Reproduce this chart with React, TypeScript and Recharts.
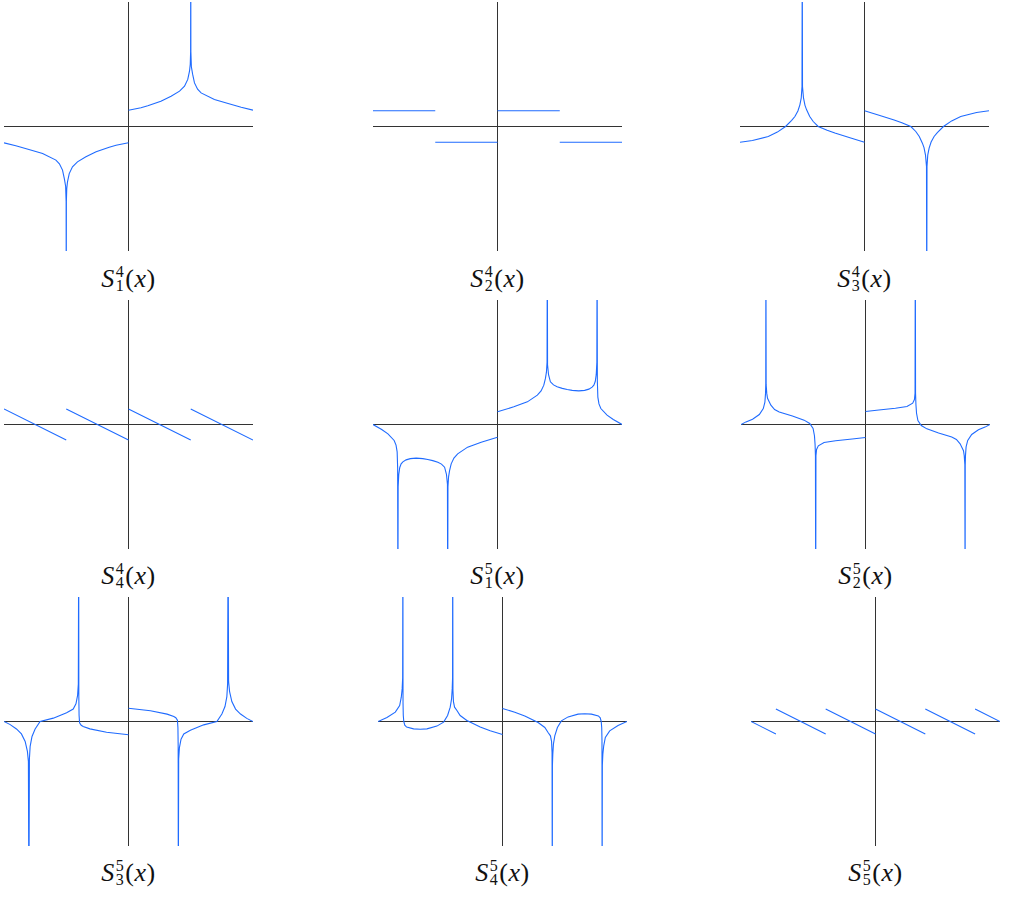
import { LineChart, Line, XAxis, YAxis, ReferenceLine } from 'recharts';

type Pt = [number, number];

// values, x and y both on [-1, 1]

// S_1^4
const s14Left: Pt[] = [
  [-1, -0.131], [-0.905, -0.155], [-0.8, -0.185], [-0.69, -0.217], [-0.583, -0.27], [-0.555, -0.3],
  [-0.53, -0.35], [-0.515, -0.42], [-0.505, -0.48], [-0.501, -0.6], [-0.5, -1.5], [-0.499, -0.6],
  [-0.496, -0.5], [-0.49, -0.444], [-0.476, -0.378], [-0.45, -0.324], [-0.41, -0.284], [-0.342, -0.243],
  [-0.26, -0.203], [-0.155, -0.166], [-0.1, -0.15], [0, -0.131],
];
const s14Right: Pt[] = [
  [0, 0.131], [0.1, 0.15], [0.155, 0.166], [0.26, 0.203], [0.342, 0.243], [0.41, 0.284], [0.45, 0.324],
  [0.476, 0.378], [0.49, 0.444], [0.496, 0.5], [0.499, 0.6], [0.5, 1.5], [0.501, 0.6], [0.505, 0.48],
  [0.515, 0.42], [0.53, 0.35], [0.555, 0.3], [0.583, 0.27], [0.69, 0.217], [0.8, 0.185], [0.905, 0.155],
  [1, 0.131],
];

// S_2^4
const s24A: Pt[] = [[-1, 0.126], [-0.5, 0.126]];
const s24B: Pt[] = [[-0.5, -0.126], [0, -0.126]];
const s24C: Pt[] = [[0, 0.126], [0.5, 0.126]];
const s24D: Pt[] = [[0.5, -0.126], [1, -0.126]];

// S_3^4
const s34Left: Pt[] = [
  [-1, -0.126], [-0.9, -0.113], [-0.773, -0.08], [-0.7, -0.045], [-0.634, 0], [-0.585, 0.05],
  [-0.559, 0.08], [-0.535, 0.125], [-0.519, 0.174], [-0.508, 0.23], [-0.502, 0.32], [-0.5, 1.5],
  [-0.498, 0.32], [-0.49, 0.23], [-0.478, 0.17], [-0.465, 0.134], [-0.44, 0.08], [-0.412, 0.04],
  [-0.372, 0], [-0.3, -0.03], [-0.238, -0.053], [-0.104, -0.094], [0, -0.126],
];
const s34Right: Pt[] = [
  [0, 0.126], [0.104, 0.094], [0.238, 0.053], [0.3, 0.03], [0.372, 0], [0.412, -0.04], [0.44, -0.08],
  [0.465, -0.134], [0.478, -0.17], [0.49, -0.23], [0.498, -0.32], [0.5, -1.5], [0.502, -0.32],
  [0.508, -0.23], [0.519, -0.174], [0.535, -0.125], [0.559, -0.08], [0.585, -0.05], [0.634, 0],
  [0.7, 0.045], [0.773, 0.08], [0.9, 0.113], [1, 0.126],
];

// S_4^4
const s44A: Pt[] = [[-1, 0.125], [-0.5, -0.125]];
const s44B: Pt[] = [[-0.5, 0.125], [0, -0.125]];
const s44C: Pt[] = [[0, 0.125], [0.5, -0.125]];
const s44D: Pt[] = [[0.5, 0.125], [1, -0.125]];

// S_1^5
const s15Left: Pt[] = [
  [-1, 0], [-0.93, -0.04], [-0.88, -0.075], [-0.83, -0.128], [-0.815, -0.165], [-0.806, -0.22],
  [-0.802, -0.35], [-0.8, -1.5], [-0.798, -0.5], [-0.793, -0.4], [-0.785, -0.345], [-0.774, -0.316],
  [-0.76, -0.3], [-0.734, -0.284], [-0.7, -0.274], [-0.653, -0.27], [-0.6, -0.274], [-0.56, -0.281],
  [-0.52, -0.29], [-0.479, -0.303], [-0.45, -0.318], [-0.425, -0.343], [-0.41, -0.4], [-0.402, -0.48],
  [-0.4, -1.5], [-0.398, -0.5], [-0.393, -0.42], [-0.385, -0.37], [-0.372, -0.316], [-0.35, -0.27],
  [-0.32, -0.236], [-0.24, -0.182], [-0.131, -0.142], [0, -0.102],
];
const s15Right: Pt[] = [
  [0, 0.102], [0.131, 0.142], [0.24, 0.182], [0.32, 0.236], [0.35, 0.27], [0.372, 0.316], [0.385, 0.37],
  [0.393, 0.42], [0.398, 0.5], [0.4, 1.5], [0.402, 0.48], [0.41, 0.4], [0.425, 0.343], [0.45, 0.318],
  [0.479, 0.303], [0.52, 0.29], [0.56, 0.281], [0.6, 0.274], [0.653, 0.27], [0.7, 0.274], [0.734, 0.284],
  [0.76, 0.3], [0.774, 0.316], [0.785, 0.345], [0.793, 0.4], [0.798, 0.5], [0.8, 1.5], [0.802, 0.35],
  [0.806, 0.22], [0.815, 0.165], [0.83, 0.128], [0.88, 0.075], [0.93, 0.04], [1, 0],
];

// S_2^5
const s25Left: Pt[] = [
  [-1, 0], [-0.96, 0.021], [-0.907, 0.043], [-0.853, 0.08], [-0.821, 0.128], [-0.808, 0.18],
  [-0.803, 0.25], [-0.801, 0.33], [-0.8, 1.5], [-0.798, 0.32], [-0.793, 0.25], [-0.787, 0.21],
  [-0.76, 0.155], [-0.73, 0.12], [-0.693, 0.101], [-0.587, 0.069], [-0.493, 0.035], [-0.448, 0.008],
  [-0.421, -0.032], [-0.41, -0.09], [-0.405, -0.16], [-0.402, -0.25], [-0.4, -1.5], [-0.398, -0.25],
  [-0.393, -0.2], [-0.379, -0.171], [-0.333, -0.144], [-0.24, -0.131], [-0.107, -0.117], [0, -0.104],
];
const s25Right: Pt[] = [
  [0, 0.104], [0.107, 0.117], [0.24, 0.131], [0.333, 0.144], [0.379, 0.171], [0.393, 0.2], [0.398, 0.25],
  [0.4, 1.5], [0.402, 0.25], [0.405, 0.16], [0.41, 0.09], [0.421, 0.032], [0.448, -0.008], [0.493, -0.035],
  [0.587, -0.069], [0.693, -0.101], [0.73, -0.12], [0.76, -0.155], [0.787, -0.21], [0.793, -0.25],
  [0.798, -0.32], [0.8, -1.5], [0.801, -0.33], [0.803, -0.25], [0.808, -0.18], [0.821, -0.128],
  [0.853, -0.08], [0.907, -0.043], [0.96, -0.021], [1, 0],
];

// S_3^5
const s35Left: Pt[] = [
  [-1, 0], [-0.95, -0.025], [-0.9, -0.06], [-0.86, -0.1], [-0.83, -0.16], [-0.812, -0.24], [-0.804, -0.32],
  [-0.8, -1.5], [-0.796, -0.3], [-0.79, -0.2], [-0.775, -0.12], [-0.75, -0.06], [-0.71, 0], [-0.604, 0.027],
  [-0.497, 0.07], [-0.444, 0.1], [-0.422, 0.142], [-0.409, 0.209], [-0.403, 0.3], [-0.4, 1.5],
  [-0.399, 0.2], [-0.397, 0.05], [-0.393, -0.01], [-0.38, -0.03], [-0.364, -0.04], [-0.31, -0.059],
  [-0.176, -0.086], [0, -0.107],
];
const s35Right: Pt[] = [
  [0, 0.107], [0.176, 0.086], [0.31, 0.059], [0.364, 0.04], [0.38, 0.03], [0.393, 0.01], [0.397, -0.05],
  [0.399, -0.2], [0.4, -1.5], [0.403, -0.3], [0.409, -0.209], [0.422, -0.142], [0.444, -0.1], [0.497, -0.07],
  [0.604, -0.027], [0.71, 0], [0.75, 0.06], [0.775, 0.12], [0.79, 0.2], [0.796, 0.3], [0.8, 1.5],
  [0.804, 0.32], [0.812, 0.24], [0.83, 0.16], [0.86, 0.1], [0.9, 0.06], [0.95, 0.025], [1, 0],
];

// S_4^5
const s45Left: Pt[] = [
  [-1, 0], [-0.928, 0.032], [-0.861, 0.075], [-0.826, 0.128], [-0.813, 0.195], [-0.806, 0.262],
  [-0.802, 0.35], [-0.8, 1.5], [-0.799, 0.15], [-0.797, 0.05], [-0.793, 0], [-0.785, -0.03],
  [-0.77, -0.045], [-0.714, -0.059], [-0.66, -0.062], [-0.607, -0.059], [-0.527, -0.037], [-0.473, -0.005],
  [-0.441, 0.048], [-0.42, 0.115], [-0.409, 0.182], [-0.404, 0.262], [-0.401, 0.35], [-0.4, 1.5],
  [-0.398, 0.25], [-0.394, 0.16], [-0.385, 0.115], [-0.366, 0.088], [-0.34, 0.048], [-0.286, 0.008],
  [-0.179, -0.045], [-0.099, -0.075], [0, -0.104],
];
const s45Right: Pt[] = [
  [0, 0.104], [0.099, 0.075], [0.179, 0.045], [0.286, -0.008], [0.34, -0.048], [0.366, -0.088],
  [0.385, -0.115], [0.394, -0.16], [0.398, -0.25], [0.4, -1.5], [0.401, -0.35], [0.404, -0.262],
  [0.409, -0.182], [0.42, -0.115], [0.441, -0.048], [0.473, 0.005], [0.527, 0.037], [0.607, 0.059],
  [0.66, 0.062], [0.714, 0.059], [0.77, 0.045], [0.785, 0.03], [0.793, 0], [0.797, -0.05], [0.799, -0.15],
  [0.8, -1.5], [0.802, -0.35], [0.806, -0.262], [0.813, -0.195], [0.826, -0.128], [0.861, -0.075],
  [0.928, -0.032], [1, 0],
];

// S_5^5
const s55A: Pt[] = [[-1, 0], [-0.8, -0.1]];
const s55B: Pt[] = [[-0.8, 0.1], [-0.4, -0.1]];
const s55C: Pt[] = [[-0.4, 0.1], [0, -0.1]];
const s55D: Pt[] = [[0, 0.1], [0.4, -0.1]];
const s55E: Pt[] = [[0.4, 0.1], [0.8, -0.1]];
const s55F: Pt[] = [[0.8, 0.1], [1, 0]];

const subs = [1, 2, 3, 4, 1, 2, 3, 4, 5];
const sups = [4, 4, 4, 4, 5, 5, 5, 5, 5];
const branchSets: Pt[][][] = [
  [s14Left, s14Right],
  [s24A, s24B, s24C, s24D],
  [s34Left, s34Right],
  [s44A, s44B, s44C, s44D],
  [s15Left, s15Right],
  [s25Left, s25Right],
  [s35Left, s35Right],
  [s45Left, s45Right],
  [s55A, s55B, s55C, s55D, s55E, s55F],
];

const BLUE = '#1f6bff';
const AXIS = '#333';
const W = 249;
const H = 249;
const rowTops = [2, 300, 597];
const colLefts = [
  [4, 373, 740],
  [4, 373, 741],
  [4, 378, 751],
];
const baselines = [288, 585, 882];
const SERIF = "'Liberation Serif', 'DejaVu Serif', serif";

// glue branches together with a null gap so the line breaks
function toRows(branches: Pt[][]) {
  const rows: { x: number; y: number | null }[] = [];
  branches.forEach((b, i) => {
    if (i > 0) rows.push({ x: b[0][0], y: null });
    b.forEach(([x, y]) => rows.push({ x, y }));
  });
  return rows;
}

function Label({ sub, sup, cx, baseline }: { sub: number; sup: number; cx: number; baseline: number }) {
  return (
    <div
      style={{
        position: 'absolute',
        left: cx - 60,
        top: baseline - 24,
        width: 120,
        textAlign: 'center',
        fontFamily: SERIF,
        fontSize: 26,
        lineHeight: '30px',
        color: '#111',
        whiteSpace: 'nowrap',
        letterSpacing: 0.5,
      }}
    >
      <span style={{ fontStyle: 'italic' }}>S</span>
      {/* super- and subscript stacked in one text block */}
      <span
        style={{
          display: 'inline-block',
          whiteSpace: 'pre-line',
          fontSize: 16,
          lineHeight: '14px',
          verticalAlign: '-4px',
          textAlign: 'left',
          marginLeft: 1,
          marginRight: 1,
        }}
      >
        {`${sup}\n${sub}`}
      </span>
      (<span style={{ fontStyle: 'italic' }}>x</span>)
    </div>
  );
}

function Panel({ branches, left, top }: { branches: Pt[][]; left: number; top: number }) {
  return (
    <div style={{ position: 'absolute', left, top, width: W, height: H }}>
      <LineChart width={W} height={H} data={toRows(branches)} margin={{ top: 0, right: 0, bottom: 0, left: 0 }}>
        <XAxis dataKey="x" type="number" domain={[-1, 1]} allowDataOverflow hide />
        <YAxis type="number" domain={[-1, 1]} allowDataOverflow hide />
        <ReferenceLine x={0} stroke={AXIS} strokeWidth={1} />
        <ReferenceLine y={0} stroke={AXIS} strokeWidth={1} />
        <Line
          type="linear"
          dataKey="y"
          stroke={BLUE}
          strokeWidth={1.1}
          dot={false}
          activeDot={false}
          connectNulls={false}
          isAnimationActive={false}
        />
      </LineChart>
    </div>
  );
}

export default function App() {
  return (
    <div style={{ position: 'absolute', left: 0, top: 0, width: 1009, height: 897, background: '#fff' }}>
      {branchSets.map((branches, i) => {
        const r = Math.floor(i / 3);
        const c = i % 3;
        const left = colLefts[r][c];
        return (
          <div key={i}>
            <Panel branches={branches} left={left} top={rowTops[r]} />
            <Label sub={subs[i]} sup={sups[i]} cx={left + W / 2} baseline={baselines[r]} />
          </div>
        );
      })}
    </div>
  );
}
